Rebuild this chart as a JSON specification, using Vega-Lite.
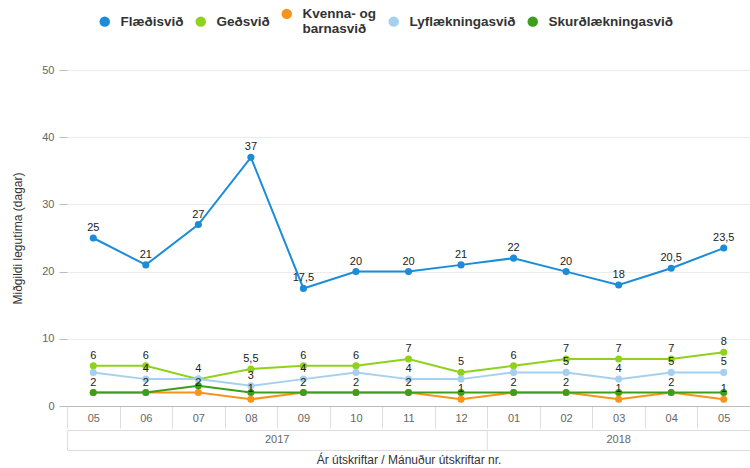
{
  "$schema": "https://vega.github.io/schema/vega-lite/v6.json",
  "padding": {"left": 11, "top": 7, "right": 0, "bottom": 0},
  "background": "white",
  "config": {
    "font": "Liberation Sans",
    "view": {"stroke": null},
    "locale": {"number": {"decimal": ",", "thousands": ".", "grouping": [3], "currency": ["", " kr."]}}
  },
  "datasets": {
    "main": [
      {"ym": "2017-05", "Flæðisvið": 25, "Geðsvið": 6, "Kvenna- og barnasvið": 2, "Lyflækningasvið": 5, "Skurðlækningasvið": 2},
      {"ym": "2017-06", "Flæðisvið": 21, "Geðsvið": 6, "Kvenna- og barnasvið": 2, "Lyflækningasvið": 4, "Skurðlækningasvið": 2},
      {"ym": "2017-07", "Flæðisvið": 27, "Geðsvið": 4, "Kvenna- og barnasvið": 2, "Lyflækningasvið": 4, "Skurðlækningasvið": 3},
      {"ym": "2017-08", "Flæðisvið": 37, "Geðsvið": 5.5, "Kvenna- og barnasvið": 1, "Lyflækningasvið": 3, "Skurðlækningasvið": 2},
      {"ym": "2017-09", "Flæðisvið": 17.5, "Geðsvið": 6, "Kvenna- og barnasvið": 2, "Lyflækningasvið": 4, "Skurðlækningasvið": 2},
      {"ym": "2017-10", "Flæðisvið": 20, "Geðsvið": 6, "Kvenna- og barnasvið": 2, "Lyflækningasvið": 5, "Skurðlækningasvið": 2},
      {"ym": "2017-11", "Flæðisvið": 20, "Geðsvið": 7, "Kvenna- og barnasvið": 2, "Lyflækningasvið": 4, "Skurðlækningasvið": 2},
      {"ym": "2017-12", "Flæðisvið": 21, "Geðsvið": 5, "Kvenna- og barnasvið": 1, "Lyflækningasvið": 4, "Skurðlækningasvið": 2},
      {"ym": "2018-01", "Flæðisvið": 22, "Geðsvið": 6, "Kvenna- og barnasvið": 2, "Lyflækningasvið": 5, "Skurðlækningasvið": 2},
      {"ym": "2018-02", "Flæðisvið": 20, "Geðsvið": 7, "Kvenna- og barnasvið": 2, "Lyflækningasvið": 5, "Skurðlækningasvið": 2},
      {"ym": "2018-03", "Flæðisvið": 18, "Geðsvið": 7, "Kvenna- og barnasvið": 1, "Lyflækningasvið": 4, "Skurðlækningasvið": 2},
      {"ym": "2018-04", "Flæðisvið": 20.5, "Geðsvið": 7, "Kvenna- og barnasvið": 2, "Lyflækningasvið": 5, "Skurðlækningasvið": 2},
      {"ym": "2018-05", "Flæðisvið": 23.5, "Geðsvið": 8, "Kvenna- og barnasvið": 1, "Lyflækningasvið": 5, "Skurðlækningasvið": 2}
    ],
    "years": [
      {"year": "2017", "mid": "2017-08", "edge": "2017-12"},
      {"year": "2018", "mid": "2018-03", "edge": "2018-05"}
    ]
  },
  "vconcat": [
    {
      "width": 683,
      "height": 336,
      "data": {"name": "main"},
      "encoding": {
        "x": {
          "field": "ym", "type": "ordinal",
          "scale": {"type": "band", "paddingInner": 0, "paddingOuter": 0},
          "axis": {
            "title": null,
            "labelExpr": "split(datum.value, '-')[1]",
            "labelAngle": 0,
            "labelColor": "#666666",
            "labelFontSize": 11,
            "labelPadding": -16,
            "tickBand": "extent",
            "tickSize": 22,
            "tickColor": "#dddddd",
            "domainColor": "#bbbbbb",
            "grid": false
          }
        }
      },
      "layer": [
        {
          "transform": [{"fold": ["Flæðisvið", "Geðsvið", "Kvenna- og barnasvið", "Lyflækningasvið", "Skurðlækningasvið"], "as": ["svid", "value"]}],
          "mark": {"type": "line", "strokeWidth": 2, "point": {"filled": true, "size": 50, "opacity": 1}},
          "encoding": {
            "y": {
              "field": "value", "type": "quantitative",
              "scale": {"domain": [0, 50], "nice": false},
              "axis": {
                "title": "Miðgildi legutíma (dagar)",
                "titleFontSize": 12,
                "titleFontWeight": "normal",
                "titleColor": "#333333",
                "titlePadding": 17,
                "values": [0, 10, 20, 30, 40, 50],
                "labelColor": "#666666",
                "labelFontSize": 11,
                "labelPadding": 5,
                "tickSize": 8,
                "tickColor": "#bbbbbb",
                "domain": false,
                "gridColor": "#ececec"
              }
            },
            "color": {
              "field": "svid", "type": "nominal",
              "scale": {
                "domain": ["Flæðisvið", "Geðsvið", "Kvenna- og barnasvið", "Lyflækningasvið", "Skurðlækningasvið"],
                "range": ["#1a8cd8", "#8fd11c", "#f7941d", "#a6d0ee", "#3c9e1a"]
              },
              "legend": {
                "title": null,
                "orient": "none",
                "legendX": 31,
                "legendY": -63,
                "direction": "horizontal",
                "symbolType": "circle",
                "symbolSize": 110,
                "symbolStrokeWidth": 0,
                "labelFontSize": 13.5,
                "labelFontWeight": "bold",
                "labelColor": "#333333",
                "labelLimit": 200,
                "labelOffset": 9,
                "columnPadding": 10,
                "labelExpr": "datum.label == 'Kvenna- og barnasvið' ? ['Kvenna- og', 'barnasvið'] : datum.label"
              }
            }
          }
        },
        {
          "transform": [{"fold": ["Flæðisvið", "Geðsvið"], "as": ["svid", "value"]}],
          "mark": {"type": "text", "baseline": "bottom", "dy": -5, "fontSize": 11, "color": "#222222"},
          "encoding": {
            "y": {"field": "value", "type": "quantitative"},
            "text": {"field": "value", "type": "quantitative", "format": ".1~f"}
          }
        },
        {
          "transform": [
            {"filter": "datum['Geðsvið'] - datum['Lyflækningasvið'] > 1.5"},
            {"fold": ["Lyflækningasvið"], "as": ["svid", "value"]}
          ],
          "mark": {"type": "text", "baseline": "bottom", "dy": -5, "fontSize": 11, "color": "#222222"},
          "encoding": {
            "y": {"field": "value", "type": "quantitative"},
            "text": {"field": "value", "type": "quantitative", "format": ".1~f"}
          }
        },
        {
          "transform": [{"fold": ["Kvenna- og barnasvið"], "as": ["svid", "value"]}],
          "mark": {"type": "text", "baseline": "bottom", "dy": -5, "fontSize": 11, "color": "#222222"},
          "encoding": {
            "y": {"field": "value", "type": "quantitative"},
            "text": {"field": "value", "type": "quantitative", "format": ".1~f"}
          }
        }
      ]
    },
    {
      "width": 683,
      "height": 20,
      "view": {"stroke": "#dddddd"},
      "data": {"name": "years"},
      "layer": [
        {
          "transform": [{"filter": "datum.year == '2017'"}],
          "mark": {"type": "text", "fontSize": 11, "color": "#666666"},
          "encoding": {
            "x": {"field": "mid", "type": "ordinal", "bandPosition": 1,
                  "scale": {"type": "band", "paddingInner": 0, "paddingOuter": 0},
                  "axis": {"title": "Ár útskriftar / Mánuður útskriftar nr.", "labels": false, "ticks": false, "domain": false, "grid": false,
                           "titleFontSize": 12, "titleFontWeight": "normal", "titleColor": "#333333", "titlePadding": 4}},
            "text": {"field": "year"}
          }
        },
        {
          "transform": [{"filter": "datum.year == '2018'"}],
          "mark": {"type": "text", "fontSize": 11, "color": "#666666"},
          "encoding": {
            "x": {"field": "mid", "type": "ordinal", "bandPosition": 0.5},
            "text": {"field": "year"}
          }
        },
        {
          "transform": [{"filter": "datum.year == '2017'"}],
          "mark": {"type": "rule", "color": "#dddddd"},
          "encoding": {
            "x": {"field": "edge", "type": "ordinal", "bandPosition": 1}
          }
        }
      ]
    }
  ],
  "spacing": 0,
  "resolve": {"scale": {"x": "shared"}}
}
